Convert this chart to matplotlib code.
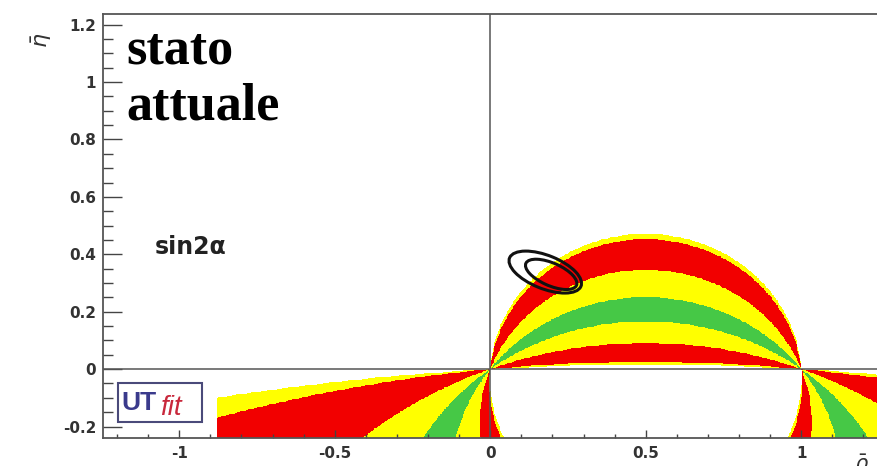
import numpy as np
import matplotlib.pyplot as plt
from matplotlib.colors import ListedColormap, BoundaryNorm
from matplotlib.patches import Ellipse, Rectangle
from matplotlib.ticker import MultipleLocator

# livelli di sin2alpha (confini delle bande colorate)
sin2a_levels = [-1.0, -0.96, -0.66, -0.20, -0.12]
band_colors = ['#46c846', '#ffff00', '#f20000', '#ffff00']
rho_scan_min = -0.88  # limite sinistro della scansione

# contorni del fit globale (centro, semiassi, angolo)
fit_rho = [0.177, 0.196]
fit_eta = [0.338, 0.330]
fit_width = [0.250, 0.180]
fit_height = [0.115, 0.078]
fit_angle = [-24, -26]

xticks = [-1, -0.5, 0, 0.5, 1]
xtick_labels = ['-1', '-0.5', '0', '0.5', '1']
yticks = [-0.2, 0, 0.2, 0.4, 0.6, 0.8, 1, 1.2]
ytick_labels = ['-0.2', '0', '0.2', '0.4', '0.6', '0.8', '1', '1.2']

W, H = 877, 466
fig = plt.figure(figsize=(W / 100, H / 100), dpi=100)
ax = fig.add_axes([103 / W, 28 / H, 776 / W, 424 / H])
ax.set_xlim(-1.245, 1.25)
ax.set_ylim(-0.24, 1.237)

rho = np.linspace(-1.245, 1.25, 900)
eta = np.linspace(-0.24, 1.237, 600)
R, E = np.meshgrid(rho, eta)
gamma = np.arctan2(E, R)
beta = np.arctan2(E, 1 - R)
alpha = np.pi - beta - gamma
s2a = np.sin(2 * alpha)
s2a = np.ma.masked_where((R < rho_scan_min) | (s2a > sin2a_levels[-1]), s2a)

cmap = ListedColormap(band_colors)
norm = BoundaryNorm(sin2a_levels, cmap.N)
ax.pcolormesh(R, E, s2a, cmap=cmap, norm=norm, shading='auto', rasterized=True)

for i in range(len(fit_rho)):
    ax.add_patch(Ellipse((fit_rho[i], fit_eta[i]), fit_width[i], fit_height[i],
                         angle=fit_angle[i], fill=False, ec='#111111', lw=2.2, zorder=4))

ax.axhline(0, color='#555555', lw=1.1, zorder=3)
ax.axvline(0, color='#555555', lw=1.1, zorder=3)

for s in ax.spines.values():
    s.set_color('#555555')
    s.set_linewidth(1.3)

ax.set_xticks(xticks)
ax.set_xticklabels(xtick_labels)
ax.set_yticks(yticks)
ax.set_yticklabels(ytick_labels)
ax.xaxis.set_minor_locator(MultipleLocator(0.1))
ax.yaxis.set_minor_locator(MultipleLocator(0.05))
ax.tick_params(axis='x', which='major', direction='in', length=6, width=1, color='#444444', pad=6)
ax.tick_params(axis='x', which='minor', direction='in', length=3, width=1, color='#444444')
ax.tick_params(axis='y', which='major', direction='in', length=14, width=1, color='#444444', pad=5)
ax.tick_params(axis='y', which='minor', direction='in', length=7, width=1, color='#444444')
for lab in ax.get_xticklabels() + ax.get_yticklabels():
    lab.set_fontweight('bold')
    lab.set_fontsize(11)
    lab.set_color('#333333')

# titoli degli assi (stile ROOT)
fig.text(42 / W, 1 - 40 / H, r'$\bar{\eta}$', rotation=90, fontsize=16, ha='center', va='center', color='#333333')
fig.text(862 / W, 1 - 453 / H, r'$\bar{\rho}$', fontsize=15, ha='center', va='top', color='#333333')

fig.text(155 / W, 1 - 254 / H, 'sin2α', fontsize=17, fontweight='bold', color='#222222', va='baseline')

fig.text(126 / W, 1 - 64 / H, 'stato', family='Liberation Serif', fontweight='bold', fontsize=37.5, va='baseline')
fig.text(126 / W, 1 - 119 / H, 'attuale', family='Liberation Serif', fontweight='bold', fontsize=37.5, va='baseline')

# logo UTfit
fig.patches.append(Rectangle((118 / W, 1 - 422 / H), 84 / W, 39 / H, transform=fig.transFigure,
                             fc='white', ec='#4a4a7a', lw=1.5, zorder=5))
fig.text(121 / W, 1 - 410 / H, 'UT', family='Liberation Sans', fontweight='bold', fontsize=19,
         color='#3a3a8c', va='baseline', zorder=6)
fig.text(160 / W, 1 - 415 / H, 'fit', family='Liberation Sans', style='italic', fontsize=20,
         color='#c8283c', va='baseline', zorder=6)

fig.savefig('out.png', dpi=100)
